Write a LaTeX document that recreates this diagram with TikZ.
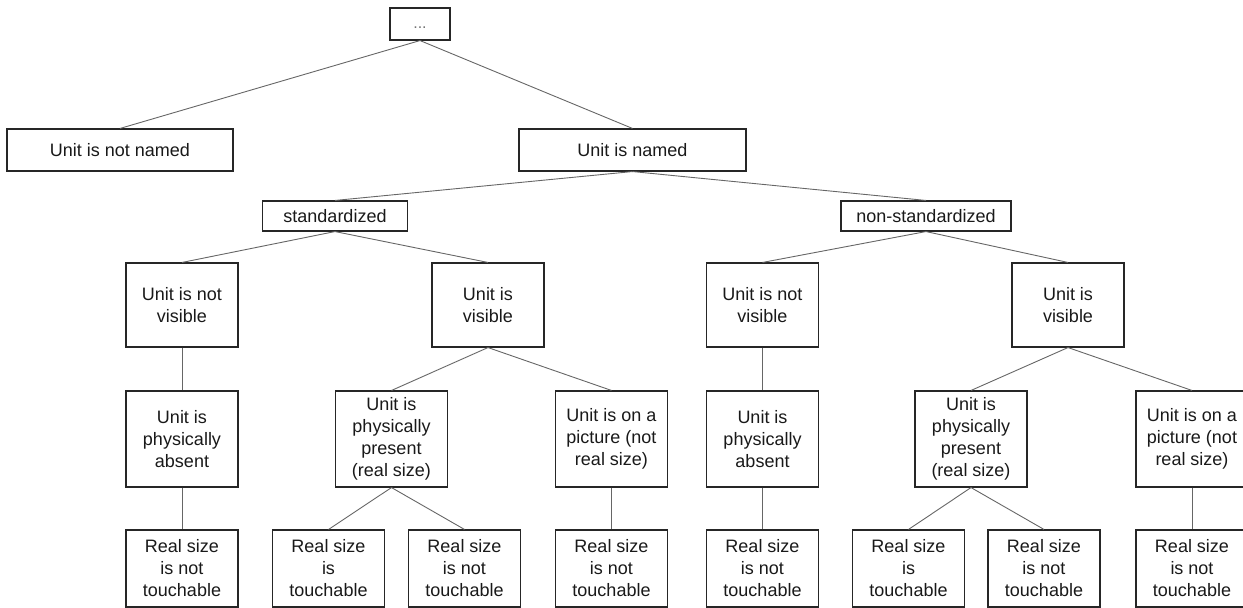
\documentclass[tikz,border=0pt]{standalone}
\usepackage{fontspec}
\setmainfont{Liberation Sans}
\begin{document}
\begin{tikzpicture}[x=1pt,y=-1pt,
  box/.style={draw=black!85, line width=1.1pt, inner sep=0pt, align=center,
    font=\fontsize{18}{22}\selectfont, text=black!90},
  small/.style={box, minimum width=112pt},
  link/.style={draw=black!60, line width=0.9pt}]
\useasboundingbox (0,0) rectangle (1243,608);

% top levels
\node[box, minimum width=60pt, minimum height=32pt, font=\fontsize{16}{20}\selectfont, text=black!55] (root) at (420,24) {\strut...};
\node[box, minimum width=226pt, minimum height=42pt] (notnamed) at (120,150) {Unit is not named};
\node[box, minimum width=227pt, minimum height=42pt] (named) at (632.5,150) {Unit is named};
\node[box, minimum width=145pt, minimum height=30pt] (std) at (335,216) {standardized};
\node[box, minimum width=170pt, minimum height=30pt] (nonstd) at (926,216) {non-standardized};

% visibility level
\node[small, minimum height=84pt] (sA) at (182,305) {Unit is not\\visible};
\node[small, minimum height=84pt] (sB) at (488,305) {Unit is\\visible};
\node[small, minimum height=84pt] (nA) at (762.5,305) {Unit is not\\visible};
\node[small, minimum height=84pt] (nB) at (1068,305) {Unit is\\visible};

% presence level
\node[small, minimum height=96pt] (sA1) at (182,439) {Unit is\\physically\\absent};
\node[small, minimum height=96pt] (sB1) at (391.5,439) {Unit is\\physically\\present\\(real size)};
\node[small, minimum height=96pt] (sB2) at (611.5,439) {Unit is on a\\picture (not\\real size)};
\node[small, minimum height=96pt] (nA1) at (762.5,439) {Unit is\\physically\\absent};
\node[small, minimum height=96pt] (nB1) at (971,439) {Unit is\\physically\\present\\(real size)};
\node[small, minimum height=96pt] (nB2) at (1192,439) {Unit is on a\\picture (not\\real size)};

% touchability level
\node[small, minimum height=77pt] (sA1x) at (182,568.5) {Real size\\is not\\touchable};
\node[small, minimum height=77pt] (sB1a) at (328.5,568.5) {Real size\\is\\touchable};
\node[small, minimum height=77pt] (sB1b) at (464.5,568.5) {Real size\\is not\\touchable};
\node[small, minimum height=77pt] (sB2x) at (611.5,568.5) {Real size\\is not\\touchable};
\node[small, minimum height=77pt] (nA1x) at (762.5,568.5) {Real size\\is not\\touchable};
\node[small, minimum height=77pt] (nB1a) at (908.5,568.5) {Real size\\is\\touchable};
\node[small, minimum height=77pt] (nB1b) at (1044,568.5) {Real size\\is not\\touchable};
\node[small, minimum height=77pt] (nB2x) at (1192,568.5) {Real size\\is not\\touchable};

% connectors
\foreach \p/\c in {root/notnamed, root/named, named/std, named/nonstd,
  std/sA, std/sB, nonstd/nA, nonstd/nB,
  sA/sA1, sB/sB1, sB/sB2, nA/nA1, nB/nB1, nB/nB2,
  sA1/sA1x, sB1/sB1a, sB1/sB1b, sB2/sB2x,
  nA1/nA1x, nB1/nB1a, nB1/nB1b, nB2/nB2x}
  \draw[link] (\p.south) -- (\c.north);
\end{tikzpicture}
\end{document}
